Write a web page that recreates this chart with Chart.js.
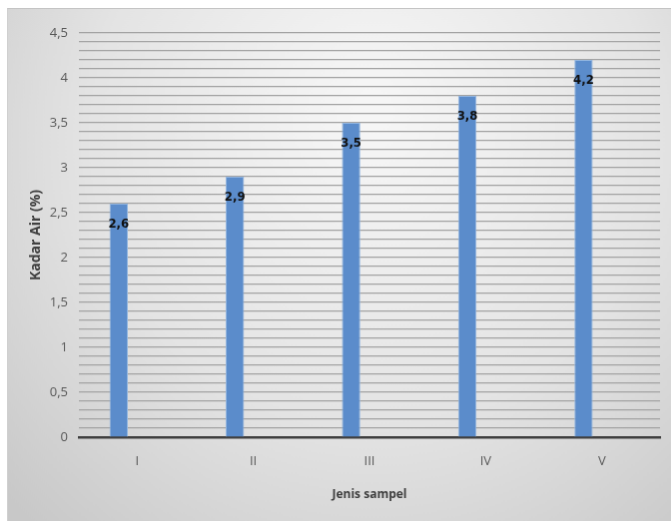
<!DOCTYPE html>
<html>
<head>
<meta charset="utf-8">
<script src="https://cdn.jsdelivr.net/npm/chart.js@4/dist/chart.umd.min.js"></script>
<style>
  html, body { margin: 0; padding: 0; background: #fff; }
  #wrap { position: absolute; left: 7px; top: 8px; width: 664px; height: 513px; }
  canvas { border-top: 1px solid #c4c4c4; border-left: 1px solid #d0d0d0; box-sizing: border-box; }
</style>
</head>
<body>
<div id="wrap"><canvas id="chart" width="664" height="513"></canvas></div>
<script>
// data
const categories = ['I', 'II', 'III', 'IV', 'V'];
const kadarAir = [2.6, 2.9, 3.5, 3.8, 4.2];
const emptySeries = [null, null, null, null, null]; // second (empty) slot, bars sit left of the tick
const yTicks = [0, 0.5, 1, 1.5, 2, 2.5, 3, 3.5, 4, 4.5];

//paint the grey gradient behind everything
const bgPlugin = {
  id: 'bg',
  beforeDraw(chart) {
    const ctx = chart.ctx;
    const w = chart.width, h = chart.height;
    const g = ctx.createRadialGradient(w * 0.55, h * 0.2, 20, w * 0.55, h * 0.3, w * 0.75);
    g.addColorStop(0, '#f6f6f6');
    g.addColorStop(0.55, '#e4e4e4');
    g.addColorStop(1, '#c8c8c8');
    ctx.save();
    ctx.fillStyle = g;
    ctx.fillRect(0, 0, w, h);
    ctx.restore();
  }
};

// value labels inside the top of each bar
const valueLabels = {
  id: 'valueLabels',
  afterDatasetsDraw(chart) {
    const ctx = chart.ctx;
    const meta = chart.getDatasetMeta(0);
    ctx.save();
    ctx.font = 'bold 13px "DejaVu Sans Condensed", "DejaVu Sans", sans-serif';
    ctx.fillStyle = '#111';
    ctx.textAlign = 'center';
    ctx.textBaseline = 'middle';
    meta.data.forEach((bar, i) => {
      const txt = String(kadarAir[i]).replace('.', ',');
      ctx.fillText(txt, bar.x, bar.y + 21);
    });
    ctx.restore();
  }
};

new Chart(document.getElementById('chart').getContext('2d'), {
  type: 'bar',
  data: {
    labels: categories,
    datasets: [
      {
        label: 'Kadar Air',
        data: kadarAir,
        backgroundColor: '#5b8ccb',
        borderColor: '#93b6e0',
        borderWidth: 1,
        barPercentage: 0.5,
        categoryPercentage: 0.632
      },
      {
        label: '',
        data: emptySeries,
        barPercentage: 0.5,
        categoryPercentage: 0.632
      }
    ]
  },
  options: {
    responsive: false,
    animation: false,
    layout: { padding: { left: 20, right: 11, top: 24, bottom: 19 } },
    plugins: {
      legend: { display: false },
      tooltip: { enabled: false }
    },
    scales: {
      x: {
        grid: { display: false, drawTicks: false },
        border: { display: true, color: '#3f3f3f', width: 2.5 },
        ticks: {
          color: '#595959',
          font: { family: 'Open Sans', size: 13 },
          padding: 16
        },
        title: {
          display: true,
          text: 'Jenis sampel',
          color: '#404040',
          font: { family: 'Open Sans', size: 12, weight: 'bold' },
          padding: { top: 8, bottom: 0 }
        },
        afterFit(axis) { axis.height = 65; }
      },
      y: {
        min: 0,
        max: 4.5,
        grid: { color: '#a3a3a3', lineWidth: 1.2, drawTicks: false },
        border: { display: false },
        ticks: {
          stepSize: 0.1,
          autoSkip: false,
          color: '#595959',
          font: { family: 'Open Sans', size: 13 },
          padding: 11,
          callback(v) {
            const t = Math.round(v * 10) / 10;
            return yTicks.includes(t) ? String(t).replace('.', ',') : '';
          }
        },
        title: {
          display: true,
          text: 'Kadar Air (%)',
          color: '#404040',
          font: { family: 'Open Sans', size: 14, weight: 'bold' },
          padding: { top: 0, bottom: 5 }
        },
        afterFit(axis) { axis.width = 51; }
      }
    }
  },
  plugins: [bgPlugin, valueLabels]
});
</script>
</body>
</html>
